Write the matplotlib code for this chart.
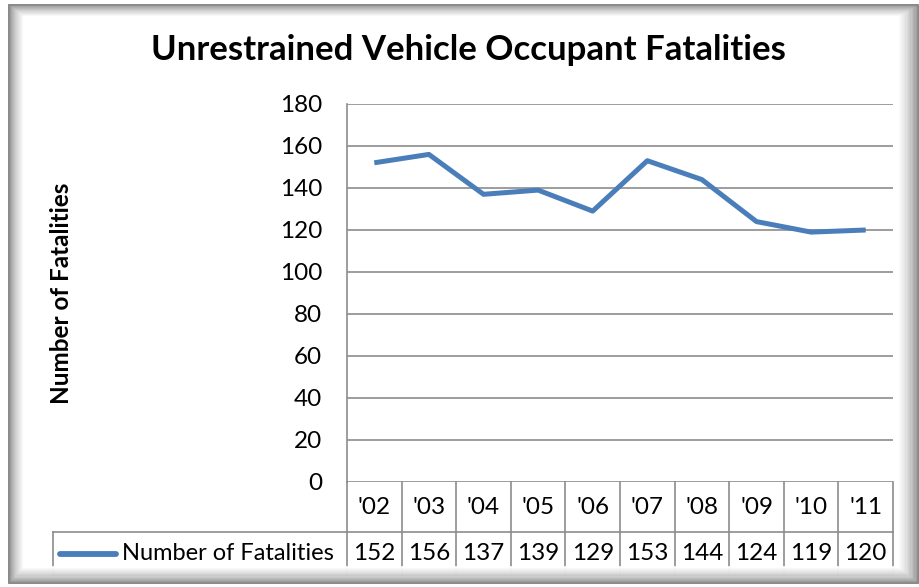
import matplotlib
import matplotlib.pyplot as plt
from matplotlib.patches import Rectangle
from matplotlib.transforms import blended_transform_factory

matplotlib.use("Agg")

years = ["'02", "'03", "'04", "'05", "'06", "'07", "'08", "'09", "'10", "'11"]
fatalities = [152, 156, 137, 139, 129, 153, 144, 124, 119, 120]
y_ticks = [0, 20, 40, 60, 80, 100, 120, 140, 160, 180]
series_name = "Number of Fatalities"
title = "Unrestrained Vehicle Occupant Fatalities"

W, H = 920, 587
line_blue = "#4a7ebb"
grid_gray = "#8c8c8c"
num_size = 17.5

plt.rcParams["font.family"] = ["Lato", "DejaVu Sans"]

fig = plt.figure(figsize=(W / 100, H / 100), dpi=100)


def fx(px):
    return px / W


def fy(py):
    return 1 - py / H


# shadowed frame round the chart
for k in range(16):
    shade = 0.45 + 0.55 * (k / 15) ** 0.6
    left, right = 9 + k, 918 - k * 1.3
    top, bottom = 5 + k * 0.8, 583 - k * 1.1
    fig.patches.append(Rectangle((fx(left), fy(bottom)), fx(right - left),
                                 (bottom - top) / H, transform=fig.transFigure,
                                 fill=False, edgecolor=str(shade), linewidth=1.2,
                                 zorder=0))

ax = fig.add_axes([fx(347), fy(482), fx(893 - 347), (482 - 104) / H])
ax.plot(range(len(years)), fatalities, color=line_blue, linewidth=3.6,
        solid_capstyle="butt", zorder=3)
ax.set_xlim(-0.5, len(years) - 0.5)
ax.set_ylim(0, 180)
ax.set_yticks(y_ticks)
ax.set_xticks([])
ax.grid(axis="y", color=grid_gray, linewidth=1.2)
ax.set_axisbelow(True)
for side in ["top", "right", "bottom"]:
    ax.spines[side].set_visible(False)
ax.spines["left"].set_color(grid_gray)
ax.spines["left"].set_linewidth(1.2)
ax.tick_params(axis="y", length=0, pad=18, labelsize=num_size)

ax.set_ylabel(series_name, fontsize=17.5, fontweight="bold")
ax.yaxis.set_label_coords((73 - 347) / 546, 0.5)

fig.text(fx(468), fy(50), title, ha="center", va="center",
         fontsize=25, fontweight="bold")

# data table under the plot
trans = blended_transform_factory(ax.transData, ax.transAxes)
row1 = (482 - 532) / 378
row2 = (482 - 575) / 378
for i in range(len(years) + 1):
    ax.plot([i - 0.5, i - 0.5], [0, row2], transform=trans, color=grid_gray,
            linewidth=1.2, clip_on=False)
for yy in [row1, row2]:
    ax.plot([-0.5, len(years) - 0.5], [yy, yy], transform=trans, color=grid_gray,
            linewidth=1.2, clip_on=False)
for i, (yr, v) in enumerate(zip(years, fatalities)):
    ax.text(i, row1 / 2, yr, transform=trans, ha="center", va="center",
            fontsize=num_size)
    ax.text(i, (row1 + row2) / 2, str(v), transform=trans, ha="center",
            va="center", fontsize=num_size)

leg_left = (53 - 347) / 546
ax.plot([leg_left, 0], [row1, row1], transform=ax.transAxes, color=grid_gray,
        linewidth=1.2, clip_on=False)
ax.plot([leg_left, 0], [row2, row2], transform=ax.transAxes, color=grid_gray,
        linewidth=1.2, clip_on=False)
ax.plot([leg_left, leg_left], [row1, row2], transform=ax.transAxes, color=grid_gray,
        linewidth=1.2, clip_on=False)
ax.plot([(60 - 347) / 546, (116 - 347) / 546], [(row1 + row2) / 2] * 2,
        transform=ax.transAxes, color=line_blue, linewidth=4.2,
        solid_capstyle="round", clip_on=False)
ax.text((122 - 347) / 546, (row1 + row2) / 2, series_name, transform=ax.transAxes,
        ha="left", va="center", fontsize=17)

fig.savefig("out.png", dpi=100)
